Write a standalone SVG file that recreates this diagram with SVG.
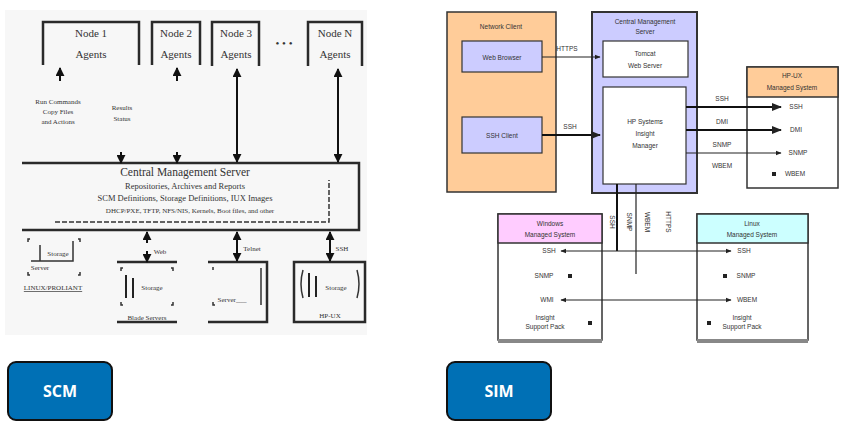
<svg xmlns="http://www.w3.org/2000/svg" width="842" height="423" viewBox="0 0 842 423">
<defs>
<marker id="ah" viewBox="0 0 10 10" refX="9" refY="5" markerWidth="4.5" markerHeight="4.5" orient="auto-start-reverse"><path d="M0,0 L10,5 L0,10 z" fill="#111"/></marker>
<marker id="as" viewBox="0 0 10 10" refX="9" refY="5" markerWidth="5" markerHeight="5" orient="auto-start-reverse"><path d="M0,1 L10,5 L0,9 z" fill="#222"/></marker>
</defs>
<style>
.scm{font-family:"Liberation Serif",serif;fill:#333;text-anchor:middle}
.big{font-size:11px}
.mid{font-size:8.5px}
.sm{font-size:7px}
.bx{fill:none;stroke:#2a2a2a;stroke-width:2.5}
.cn{stroke:#111;stroke-width:2;fill:none}
.br{fill:none;stroke:#333;stroke-width:1.5}
.sim{font-family:"Liberation Sans",sans-serif;font-size:6.5px;fill:#333;text-anchor:middle}
.sb{stroke:#333;stroke-width:1.2}
.ln{stroke:#222;stroke-width:1.2;fill:none}
.lt{stroke:#111;stroke-width:2;fill:none}
.btn{fill:#0070b5;stroke:#111;stroke-width:2}
.bt{font-family:"Open Sans",sans-serif;font-weight:bold;font-size:16px;fill:#fff;text-anchor:middle}
</style>
<rect width="842" height="423" fill="#fff"/>
<rect x="5" y="10" width="362" height="325" fill="#f7f7f7"/>

<!-- SCM nodes -->
<g id="node1"><path class="bx" d="M43,65 V22 H139 V65"/><text class="scm big" x="91" y="37">Node 1</text><text class="scm big" x="91" y="58">Agents</text></g>
<g id="node2"><path class="bx" d="M152,65 V22 H200 V65"/><text class="scm big" x="176" y="37">Node 2</text><text class="scm big" x="176" y="58">Agents</text></g>
<g id="node3"><path class="bx" d="M212,66 V22 H259 V66"/><text class="scm big" x="236" y="37">Node 3</text><text class="scm big" x="236" y="58">Agents</text></g>
<g id="dots"><text class="scm big" x="284" y="47">• • •</text></g>
<g id="nodeN"><path class="bx" d="M308,66 V22 H362 V66"/><text class="scm big" x="335" y="37">Node N</text><text class="scm big" x="335" y="58">Agents</text></g>
<g id="cms-scm">
<path class="bx" d="M22,163 H359 V230 H22"/>
<text class="scm" style="font-size:11.5px" x="185" y="176">Central Management Server</text>
<text class="scm mid" x="185" y="189">Repositories, Archives and Reports</text>
<text class="scm mid" x="185" y="201">SCM Definitions, Storage Definitions, IUX Images</text>
<text class="scm sm" x="190" y="213">DHCP/PXE, TFTP, NFS/NIS, Kernels, Boot files, and other</text>
<path d="M55,222 H329 V180" fill="none" stroke="#333" stroke-width="1.5" stroke-dasharray="5,2"/>
</g>
<g id="labels-scm">
<text class="scm sm" x="58" y="104">Run Commands</text><text class="scm sm" x="58" y="114">Copy Files</text><text class="scm sm" x="58" y="124">and Actions</text>
<text class="scm sm" x="122" y="110">Results</text><text class="scm sm" x="122" y="121">Status</text>
</g>
<g id="server1">
<path class="br" d="M40,245 V261 H73 V241 M31,261 H40"/>
<text class="scm sm" x="58" y="256">Storage</text>
<path class="br" d="M28,242 v-3 h2 M78,239 h2 v3 M28,272 v3 h2 M80,272 v3 h-2"/>
<text class="scm sm" x="40" y="270">Server</text>
<text class="scm sm" x="53" y="290" style="text-decoration:underline">LINUX/PROLIANT</text>
</g>
<g id="server2">
<path class="bx" d="M117,262 H177"/>
<path class="br" d="M121,271 v-3 h2 M171,268 h2 v3 M121,302 v3 h2 M173,302 v3 h-2"/>
<path stroke="#222" stroke-width="2" d="M126,275 V298 M133,278 V298"/>
<text class="scm sm" x="152" y="290">Storage</text>
<path class="bx" d="M117,322 H177"/>
<text class="scm sm" x="147" y="320">Blade Servers</text>
</g>
<g id="server3">
<path class="bx" d="M208,262 H267 V322 H208"/>
<path class="br" d="M213,270 v-3 M261,268 V305 M213,302 v3 h2"/>
<text class="scm sm" x="232" y="302">Server___</text>
</g>
<g id="server4">
<rect class="bx" x="294" y="262" width="71" height="60"/>
<path class="br" d="M303,270 q-4,14 0,28 M357,270 q4,14 0,28"/>
<path stroke="#222" stroke-width="2" d="M309,273 V297 M316,276 V297"/>
<text class="scm sm" x="336" y="290">Storage</text>
<text class="scm sm" x="330" y="318">HP-UX</text>
</g>
<g id="connectors-scm">
<line class="cn" x1="60" y1="81" x2="60" y2="68" marker-end="url(#ah)"/>
<line class="cn" x1="177" y1="81" x2="177" y2="68" marker-end="url(#ah)"/>
<line class="cn" x1="121" y1="152" x2="121" y2="163" marker-end="url(#ah)"/>
<line class="cn" x1="177" y1="152" x2="177" y2="163" marker-end="url(#ah)"/>
<line class="cn" x1="237" y1="69" x2="237" y2="162" marker-start="url(#ah)" marker-end="url(#ah)"/>
<line class="cn" x1="338" y1="69" x2="338" y2="162" marker-start="url(#ah)" marker-end="url(#ah)"/>
<line class="cn" x1="147" y1="243" x2="147" y2="232" marker-end="url(#ah)"/>
<line class="cn" x1="147" y1="251" x2="147" y2="262" marker-end="url(#ah)"/>
<line class="cn" x1="237" y1="232" x2="237" y2="261" marker-start="url(#ah)" marker-end="url(#ah)"/>
<line class="cn" x1="330" y1="232" x2="330" y2="261" marker-start="url(#ah)" marker-end="url(#ah)"/>
<text class="scm sm" x="160" y="254">Web</text>
<text class="scm sm" x="252" y="251">Telnet</text>
<text class="scm sm" x="342" y="251">SSH</text>
</g>

<!-- SIM -->
<g id="network-client">
<rect x="447" y="12" width="109" height="180" fill="#ffcc99" stroke="#333" stroke-width="1.5"/>
<text class="sim" x="501" y="29">Network Client</text>
</g>
<g id="web-browser"><rect x="462" y="41" width="80" height="31" fill="#ccccff" class="sb"/><text class="sim" x="502" y="60">Web Browser</text></g>
<g id="ssh-client"><rect x="462" y="117" width="80" height="36" fill="#ccccff" class="sb"/><text class="sim" x="502" y="138">SSH Client</text></g>
<g id="cms-sim">
<rect x="592" y="12" width="105" height="181" fill="#ccccff" stroke="#333" stroke-width="2"/>
<text class="sim" x="645" y="24">Central Management</text><text class="sim" x="645" y="34">Server</text>
</g>
<g id="tomcat"><rect x="603" y="41" width="85" height="36" fill="#fff" class="sb"/><text class="sim" x="645" y="56">Tomcat</text><text class="sim" x="645" y="68">Web Server</text></g>
<g id="hpsim"><rect x="603" y="87" width="83" height="97" fill="#fff" class="sb"/><text class="sim" x="645" y="124">HP Systems</text><text class="sim" x="645" y="136">Insight</text><text class="sim" x="645" y="148">Manager</text></g>
<g id="hpux">
<rect x="747" y="67" width="91" height="121" fill="#fff" stroke="#333" stroke-width="1.5"/>
<rect x="747" y="67" width="91" height="30" fill="#ffcc99" stroke="#333" stroke-width="1.5"/>
<text class="sim" x="792" y="78">HP-UX</text><text class="sim" x="792" y="90">Managed System</text>
<text class="sim" x="796" y="109">SSH</text><text class="sim" x="796" y="132">DMI</text><text class="sim" x="798" y="155">SNMP</text>
<rect x="772" y="172" width="4" height="4" fill="#222"/><text class="sim" x="795" y="176">WBEM</text>
</g>
<g id="windows">
<rect x="498" y="214" width="104" height="126" fill="#fff" stroke="#333" stroke-width="1.5"/>
<rect x="498" y="214" width="104" height="29" fill="#ffccff" stroke="#333" stroke-width="1.5"/>
<rect x="498" y="339" width="104" height="4" fill="#888"/>
<text class="sim" x="550" y="226">Windows</text><text class="sim" x="550" y="237">Managed System</text>
<text class="sim" x="549" y="253">SSH</text>
<text class="sim" x="544" y="278">SNMP</text><rect x="568" y="274" width="4" height="4" fill="#222"/>
<text class="sim" x="547" y="302">WMI</text>
<text class="sim" x="545" y="320">Insight</text><text class="sim" x="545" y="329">Support Pack</text><rect x="588" y="321" width="4" height="4" fill="#222"/>
</g>
<g id="linux">
<rect x="697" y="214" width="111" height="126" fill="#fff" stroke="#333" stroke-width="1.5"/>
<rect x="697" y="214" width="111" height="29" fill="#ccffff" stroke="#333" stroke-width="1.5"/>
<rect x="697" y="339" width="111" height="4" fill="#888"/>
<text class="sim" x="752" y="226">Linux</text><text class="sim" x="752" y="237">Managed System</text>
<text class="sim" x="744" y="253">SSH</text>
<rect x="723" y="274" width="4" height="4" fill="#222"/><text class="sim" x="746" y="278">SNMP</text>
<text class="sim" x="747" y="302">WBEM</text>
<rect x="707" y="321" width="4" height="4" fill="#222"/><text class="sim" x="742" y="320">Insight</text><text class="sim" x="742" y="329">Support Pack</text>
</g>
<g id="connectors-sim">
<line class="ln" x1="542" y1="57" x2="600" y2="57" marker-end="url(#as)"/>
<text class="sim" x="567" y="51">HTTPS</text>
<line class="lt" x1="542" y1="135" x2="600" y2="135" marker-end="url(#as)"/>
<text class="sim" x="570" y="129">SSH</text>
<line class="lt" x1="686" y1="107" x2="781" y2="107" marker-end="url(#as)"/>
<text class="sim" x="722" y="101">SSH</text>
<line class="lt" x1="686" y1="130" x2="781" y2="130" marker-end="url(#as)"/>
<text class="sim" x="722" y="124">DMI</text>
<line class="ln" x1="686" y1="153" x2="781" y2="153" marker-end="url(#as)"/>
<text class="sim" x="722" y="147">SNMP</text>
<text class="sim" x="722" y="168">WBEM</text>
<line class="lt" x1="617" y1="184" x2="617" y2="251"/>
<line class="ln" x1="636" y1="184" x2="636" y2="274"/>
<text class="sim" transform="translate(610,222) rotate(90)">SSH</text>
<text class="sim" transform="translate(627,222) rotate(90)">SNMP</text>
<text class="sim" transform="translate(645,222) rotate(90)">WBEM</text>
<text class="sim" transform="translate(666,222) rotate(90)">HTTPS</text>
<line class="ln" x1="561" y1="251" x2="731" y2="251" marker-start="url(#as)" marker-end="url(#as)"/>
<line class="ln" x1="561" y1="300" x2="731" y2="300" marker-start="url(#as)" marker-end="url(#as)"/>
</g>
<g id="btn-scm"><rect class="btn" x="8" y="362" width="104" height="58" rx="8"/><text class="bt" x="60" y="397">SCM</text></g>
<g id="btn-sim"><rect class="btn" x="447" y="362" width="104" height="58" rx="8"/><text class="bt" x="499" y="397">SIM</text></g>
</svg>
